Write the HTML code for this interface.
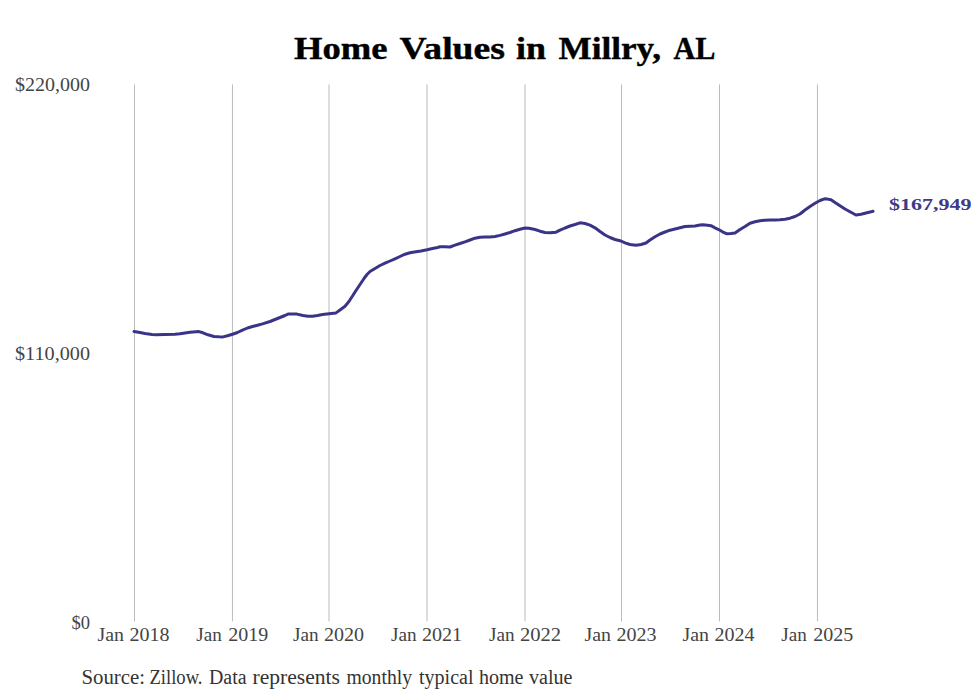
<!DOCTYPE html>
<html><head><meta charset="utf-8"><title>Home Values in Millry, AL</title>
<style>
html,body{margin:0;padding:0;background:#fff;}
body{width:980px;height:699px;overflow:hidden;}
svg{display:block;}
text{font-family:"Liberation Serif",serif;}
</style></head><body>
<svg width="980" height="699" viewBox="0 0 980 699">
<rect width="980" height="699" fill="#fff"/>
<line x1="134.5" y1="84.4" x2="134.5" y2="621.4" stroke="#bbbbbb" stroke-width="1"/>
<line x1="232.45" y1="84.4" x2="232.45" y2="621.4" stroke="#bbbbbb" stroke-width="1"/>
<line x1="329.0" y1="84.4" x2="329.0" y2="621.4" stroke="#bbbbbb" stroke-width="1"/>
<line x1="427.0" y1="84.4" x2="427.0" y2="621.4" stroke="#bbbbbb" stroke-width="1"/>
<line x1="525.0" y1="84.4" x2="525.0" y2="621.4" stroke="#bbbbbb" stroke-width="1"/>
<line x1="621.5" y1="84.4" x2="621.5" y2="621.4" stroke="#bbbbbb" stroke-width="1"/>
<line x1="719.5" y1="84.4" x2="719.5" y2="621.4" stroke="#bbbbbb" stroke-width="1"/>
<line x1="817.45" y1="84.4" x2="817.45" y2="621.4" stroke="#bbbbbb" stroke-width="1"/>
<text x="294.00" y="59.1" textLength="93.50" lengthAdjust="spacingAndGlyphs" style="font-family:'Liberation Serif',serif;font-size:31px;font-weight:bold;fill:#000;stroke:#000;stroke-width:0.4px;stroke-linejoin:round">Home</text>
<text x="399.50" y="59.1" textLength="105.50" lengthAdjust="spacingAndGlyphs" style="font-family:'Liberation Serif',serif;font-size:31px;font-weight:bold;fill:#000;stroke:#000;stroke-width:0.4px;stroke-linejoin:round">Values</text>
<text x="516.00" y="59.1" textLength="30.01" lengthAdjust="spacingAndGlyphs" style="font-family:'Liberation Serif',serif;font-size:31px;font-weight:bold;fill:#000;stroke:#000;stroke-width:0.4px;stroke-linejoin:round">in</text>
<text x="558.50" y="59.1" textLength="102.51" lengthAdjust="spacingAndGlyphs" style="font-family:'Liberation Serif',serif;font-size:31px;font-weight:bold;fill:#000;stroke:#000;stroke-width:0.4px;stroke-linejoin:round">Millry,</text>
<text x="673.49" y="59.1" textLength="42.03" lengthAdjust="spacingAndGlyphs" style="font-family:'Liberation Serif',serif;font-size:31px;font-weight:bold;fill:#000;stroke:#000;stroke-width:0.4px;stroke-linejoin:round">AL</text>
<text x="14.99" y="90.5" textLength="75.01" lengthAdjust="spacingAndGlyphs" style="font-family:'Liberation Serif',serif;font-size:18.5px;font-weight:normal;fill:#444">$220,000</text>
<text x="14.98" y="360.2" textLength="75.03" lengthAdjust="spacingAndGlyphs" style="font-family:'Liberation Serif',serif;font-size:18.5px;font-weight:normal;fill:#444">$110,000</text>
<text x="71.48" y="628.6" textLength="18.55" lengthAdjust="spacingAndGlyphs" style="font-family:'Liberation Serif',serif;font-size:18.5px;font-weight:normal;fill:#444">$0</text>
<text x="888.99" y="210.2" textLength="82.52" lengthAdjust="spacingAndGlyphs" style="font-family:'Liberation Serif',serif;font-size:17.5px;font-weight:bold;fill:#3d3a86">$167,949</text>
<text x="97.48" y="640.7" textLength="26.52" lengthAdjust="spacingAndGlyphs" style="font-family:'Liberation Serif',serif;font-size:18.5px;font-weight:normal;fill:#444">Jan</text>
<text x="129.49" y="640.7" textLength="40.03" lengthAdjust="spacingAndGlyphs" style="font-family:'Liberation Serif',serif;font-size:18.5px;font-weight:normal;fill:#444">2018</text>
<text x="196.25" y="640.7" textLength="25.50" lengthAdjust="spacingAndGlyphs" style="font-family:'Liberation Serif',serif;font-size:18.5px;font-weight:normal;fill:#444">Jan</text>
<text x="228.24" y="640.7" textLength="40.03" lengthAdjust="spacingAndGlyphs" style="font-family:'Liberation Serif',serif;font-size:18.5px;font-weight:normal;fill:#444">2019</text>
<text x="292.95" y="640.7" textLength="25.58" lengthAdjust="spacingAndGlyphs" style="font-family:'Liberation Serif',serif;font-size:18.5px;font-weight:normal;fill:#444">Jan</text>
<text x="323.97" y="640.7" textLength="40.03" lengthAdjust="spacingAndGlyphs" style="font-family:'Liberation Serif',serif;font-size:18.5px;font-weight:normal;fill:#444">2020</text>
<text x="390.95" y="640.7" textLength="25.58" lengthAdjust="spacingAndGlyphs" style="font-family:'Liberation Serif',serif;font-size:18.5px;font-weight:normal;fill:#444">Jan</text>
<text x="421.93" y="640.7" textLength="40.13" lengthAdjust="spacingAndGlyphs" style="font-family:'Liberation Serif',serif;font-size:18.5px;font-weight:normal;fill:#444">2021</text>
<text x="488.95" y="640.7" textLength="25.58" lengthAdjust="spacingAndGlyphs" style="font-family:'Liberation Serif',serif;font-size:18.5px;font-weight:normal;fill:#444">Jan</text>
<text x="519.95" y="640.7" textLength="41.11" lengthAdjust="spacingAndGlyphs" style="font-family:'Liberation Serif',serif;font-size:18.5px;font-weight:normal;fill:#444">2022</text>
<text x="584.48" y="640.7" textLength="26.52" lengthAdjust="spacingAndGlyphs" style="font-family:'Liberation Serif',serif;font-size:18.5px;font-weight:normal;fill:#444">Jan</text>
<text x="616.49" y="640.7" textLength="40.03" lengthAdjust="spacingAndGlyphs" style="font-family:'Liberation Serif',serif;font-size:18.5px;font-weight:normal;fill:#444">2023</text>
<text x="682.48" y="640.7" textLength="26.52" lengthAdjust="spacingAndGlyphs" style="font-family:'Liberation Serif',serif;font-size:18.5px;font-weight:normal;fill:#444">Jan</text>
<text x="714.46" y="640.7" textLength="40.05" lengthAdjust="spacingAndGlyphs" style="font-family:'Liberation Serif',serif;font-size:18.5px;font-weight:normal;fill:#444">2024</text>
<text x="781.25" y="640.7" textLength="25.50" lengthAdjust="spacingAndGlyphs" style="font-family:'Liberation Serif',serif;font-size:18.5px;font-weight:normal;fill:#444">Jan</text>
<text x="813.22" y="640.7" textLength="40.05" lengthAdjust="spacingAndGlyphs" style="font-family:'Liberation Serif',serif;font-size:18.5px;font-weight:normal;fill:#444">2025</text>
<text x="81.46" y="683.8" textLength="63.60" lengthAdjust="spacingAndGlyphs" style="font-family:'Liberation Serif',serif;font-size:20px;font-weight:normal;fill:#333">Source:</text>
<text x="149.47" y="683.8" textLength="53.05" lengthAdjust="spacingAndGlyphs" style="font-family:'Liberation Serif',serif;font-size:20px;font-weight:normal;fill:#333">Zillow.</text>
<text x="208.99" y="683.8" textLength="37.53" lengthAdjust="spacingAndGlyphs" style="font-family:'Liberation Serif',serif;font-size:20px;font-weight:normal;fill:#333">Data</text>
<text x="252.49" y="683.8" textLength="87.52" lengthAdjust="spacingAndGlyphs" style="font-family:'Liberation Serif',serif;font-size:20px;font-weight:normal;fill:#333">represents</text>
<text x="346.50" y="683.8" textLength="65.51" lengthAdjust="spacingAndGlyphs" style="font-family:'Liberation Serif',serif;font-size:20px;font-weight:normal;fill:#333">monthly</text>
<text x="418.99" y="683.8" textLength="54.51" lengthAdjust="spacingAndGlyphs" style="font-family:'Liberation Serif',serif;font-size:20px;font-weight:normal;fill:#333">typical</text>
<text x="478.97" y="683.8" textLength="44.55" lengthAdjust="spacingAndGlyphs" style="font-family:'Liberation Serif',serif;font-size:20px;font-weight:normal;fill:#333">home</text>
<text x="528.97" y="683.8" textLength="43.54" lengthAdjust="spacingAndGlyphs" style="font-family:'Liberation Serif',serif;font-size:20px;font-weight:normal;fill:#333">value</text>
<polyline points="134.0,331.4 140.0,332.5 145.0,333.5 152.0,334.4 156.0,334.7 165.0,334.5 175.0,334.2 180.0,333.8 185.0,333.0 190.0,332.2 196.0,331.8 199.0,331.6 203.0,332.8 208.0,334.8 214.0,336.5 219.0,336.8 223.0,336.9 227.5,335.8 232.5,334.2 237.5,332.5 242.5,330.2 247.5,328.0 252.5,326.5 257.5,325.2 262.5,323.9 270.0,321.5 275.0,319.5 280.0,317.5 285.0,315.5 288.0,314.1 292.5,313.9 297.0,314.1 303.0,315.5 308.0,316.2 312.5,316.2 317.5,315.5 322.5,314.5 329.0,313.8 336.0,312.9 340.0,310.0 345.0,306.3 347.5,303.3 350.0,299.8 352.5,296.0 355.0,292.0 358.0,287.5 361.0,283.0 364.0,278.5 367.0,274.5 370.0,271.5 375.0,268.5 380.0,265.5 385.0,263.2 390.0,261.0 395.0,258.8 400.0,256.5 405.0,254.2 410.0,252.8 416.0,251.8 421.0,251.0 427.0,249.8 432.5,248.5 437.5,247.5 440.0,246.8 445.0,246.8 450.0,247.0 455.0,245.2 460.0,243.5 465.0,241.8 470.0,240.0 475.0,238.2 480.0,237.2 485.0,236.9 490.0,237.0 495.0,236.5 500.0,235.4 505.0,234.0 510.0,232.5 515.0,230.7 520.0,229.2 525.0,228.0 529.0,228.2 535.0,229.5 540.0,231.2 545.0,232.5 550.0,232.8 556.0,232.2 560.0,230.2 565.0,228.0 570.0,226.0 575.0,224.5 580.0,222.8 585.0,223.5 590.0,225.2 595.0,227.8 600.0,231.5 605.0,235.0 610.0,237.5 615.0,239.5 621.0,241.0 625.0,242.8 630.0,244.5 636.0,245.2 641.0,244.5 646.0,243.0 650.0,240.0 655.0,236.8 660.0,234.0 665.0,232.0 670.0,230.2 675.0,229.0 680.0,227.8 685.0,226.5 690.0,226.2 695.0,226.0 700.0,225.0 703.0,224.8 707.5,225.2 711.0,225.7 715.0,227.8 719.5,230.0 722.5,231.8 727.0,233.8 731.0,233.5 735.0,233.0 740.0,229.5 745.0,226.5 750.0,223.2 755.0,221.8 760.0,220.8 765.0,220.2 770.0,220.0 775.0,219.9 780.0,219.8 785.0,219.2 790.0,218.2 795.0,216.5 800.0,214.0 805.0,210.0 810.0,206.5 815.0,203.2 820.0,200.5 824.5,198.8 827.5,199.1 831.0,199.8 835.0,202.5 840.0,205.8 845.0,209.0 850.0,211.7 856.0,215.0 861.0,214.2 866.0,213.0 871.0,211.8 873.0,211.2" fill="none" stroke="#3a3488" stroke-width="3" stroke-linejoin="round" stroke-linecap="round"/>
</svg>
</body></html>
